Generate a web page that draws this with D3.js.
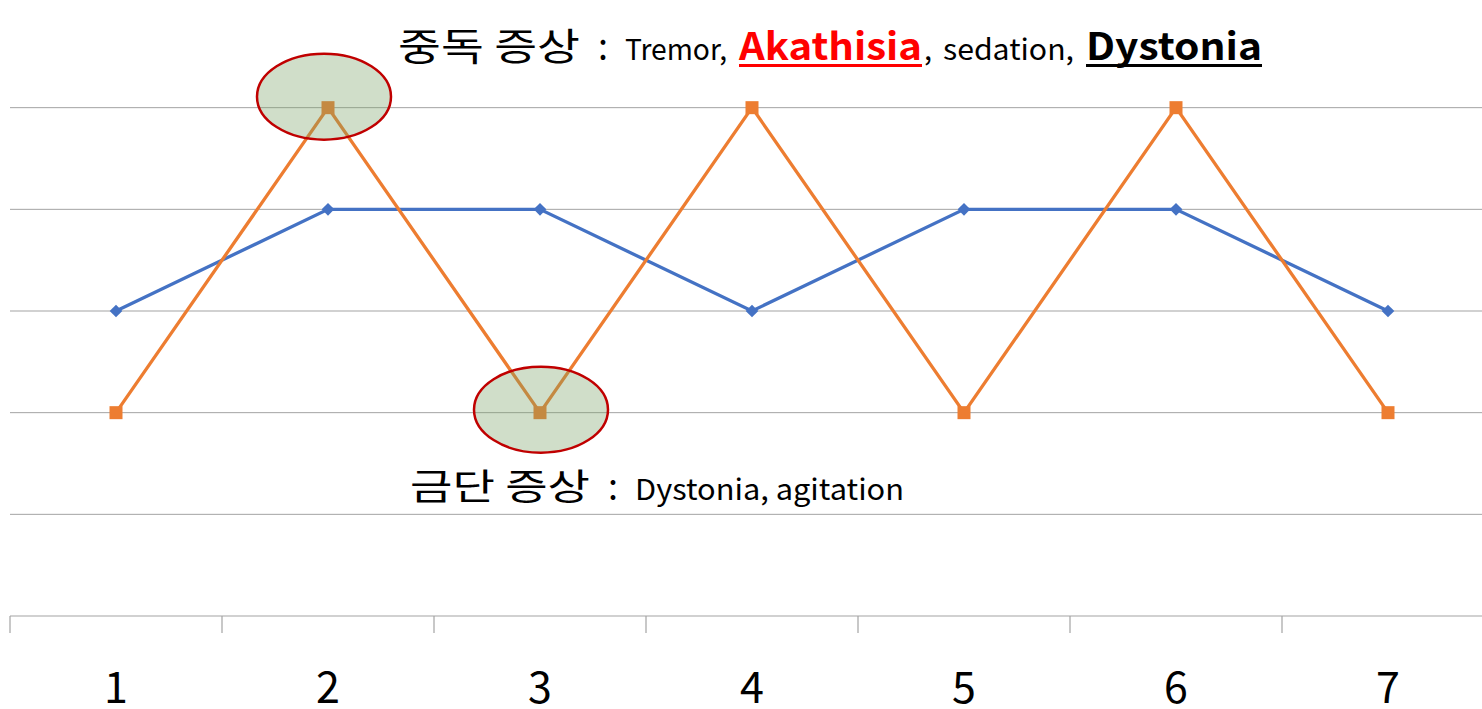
<!DOCTYPE html>
<html>
<head>
<meta charset="utf-8">
<script src="https://cdn.jsdelivr.net/npm/d3@7"></script>
<style>
  html, body { margin: 0; padding: 0; background: #fff; }
  svg { display: block; }
  text { font-family: "Noto Sans CJK KR", "Noto Sans", sans-serif; }
</style>
</head>
<body>
<svg id="chart" width="1482" height="709"></svg>
<script>
// Categories along the x axis
const categories = ["1", "2", "3", "4", "5", "6", "7"];
// Series values
const seriesBlue = [3, 4, 4, 3, 4, 4, 3];
const seriesOrange = [2, 5, 2, 5, 2, 5, 2];
// Gridline values
const gridValues = [1, 2, 3, 4, 5];
// Highlighted points (category, value) circled on the chart
const highlights = [["2", 5], ["3", 2]];

const svg = d3.select("#chart");
const W = 1482, H = 709;

const x = d3.scaleBand().domain(categories).range([10, 10 + 7 * 212]).padding(0);
const y = d3.scaleLinear().domain([0, 6]).range([616, 6]);
const cx = d => x(d) + x.bandwidth() / 2;

// gridlines
svg.append("g").selectAll("line").data(gridValues).join("line")
  .attr("x1", 10).attr("x2", W)
  .attr("y1", d => y(d)).attr("y2", d => y(d))
  .attr("stroke", "#a3a3a3").attr("stroke-width", 1);

// category axis with ticks at band boundaries
const axisG = svg.append("g");
axisG.append("line").attr("x1", 10).attr("x2", W)
  .attr("y1", y(0)).attr("y2", y(0))
  .attr("stroke", "#a3a3a3").attr("stroke-width", 1.2);
axisG.selectAll("line.tick").data(categories).join("line").attr("class", "tick")
  .attr("x1", d => x(d)).attr("x2", d => x(d))
  .attr("y1", y(0)).attr("y2", y(0) + 17)
  .attr("stroke", "#a3a3a3").attr("stroke-width", 1.2);
axisG.selectAll("text").data(categories).join("text")
  .attr("x", d => cx(d)).attr("y", 703)
  .attr("text-anchor", "middle")
  .attr("font-size", 43).attr("fill", "#000")
  .text(d => d);

const line = d3.line().x((d, i) => cx(categories[i])).y(d => y(d));

// blue series
svg.append("path").datum(seriesBlue)
  .attr("d", line).attr("fill", "none")
  .attr("stroke", "#4472c4").attr("stroke-width", 3.3);
svg.append("g").selectAll("path").data(seriesBlue).join("path")
  .attr("d", d3.symbol(d3.symbolSquare, 80))
  .attr("transform", (d, i) => `translate(${cx(categories[i])},${y(d)}) rotate(45)`)
  .attr("fill", "#4472c4");

// orange series
svg.append("path").datum(seriesOrange)
  .attr("d", line).attr("fill", "none")
  .attr("stroke", "#ed7d31").attr("stroke-width", 3.3);
svg.append("g").selectAll("path").data(seriesOrange).join("path")
  .attr("d", d3.symbol(d3.symbolSquare, 169))
  .attr("transform", (d, i) => `translate(${cx(categories[i])},${y(d)})`)
  .attr("fill", "#ed7d31");

// highlight ellipses, nudged slightly off their points
const nudge = [[-4, -11], [1, -3]];
svg.append("g").selectAll("ellipse").data(highlights).join("ellipse")
  .attr("cx", (d, i) => cx(d[0]) + nudge[i][0])
  .attr("cy", (d, i) => y(d[1]) + nudge[i][1])
  .attr("rx", 67).attr("ry", 43)
  .attr("fill", "rgb(120,160,100)").attr("fill-opacity", 0.35)
  .attr("stroke", "#c00000").attr("stroke-width", 2.5);

// text segment helper: fixed-width runs, optional underline
const seg = (g, txt, x0, len, size, opts = {}) => {
  const by = opts.y || 60;
  const t = g.append("text").attr("x", x0).attr("y", by)
    .attr("font-size", size)
    .attr("textLength", len).attr("lengthAdjust", "spacingAndGlyphs")
    .attr("font-weight", opts.bold ? 700 : 400)
    .attr("fill", opts.color || "#000")
    .text(txt);
  if (opts.underline) {
    g.append("rect").attr("x", x0).attr("y", by + 4)
      .attr("width", len).attr("height", 3).attr("fill", opts.color || "#000");
  }
  return t;
};

// toxicity annotation
const toxG = svg.append("g");
seg(toxG, "중독 증상", 398, 182, 38);
seg(toxG, ":", 598, 10, 38);
seg(toxG, "Tremor,", 625, 102, 29);
seg(toxG, "Akathisia", 739, 183, 38, { bold: true, color: "#ff0000", underline: true });
seg(toxG, ",", 924, 8, 29);
seg(toxG, "sedation,", 943, 131, 29);
seg(toxG, "Dystonia", 1086, 176, 38, { bold: true, underline: true });

// withdrawal annotation
const wdG = svg.append("g");
seg(wdG, "금단 증상", 410, 180, 36, { y: 500 });
seg(wdG, ":", 608, 10, 36, { y: 500 });
seg(wdG, "Dystonia, agitation", 635, 269, 29, { y: 500 });
</script>
</body>
</html>
